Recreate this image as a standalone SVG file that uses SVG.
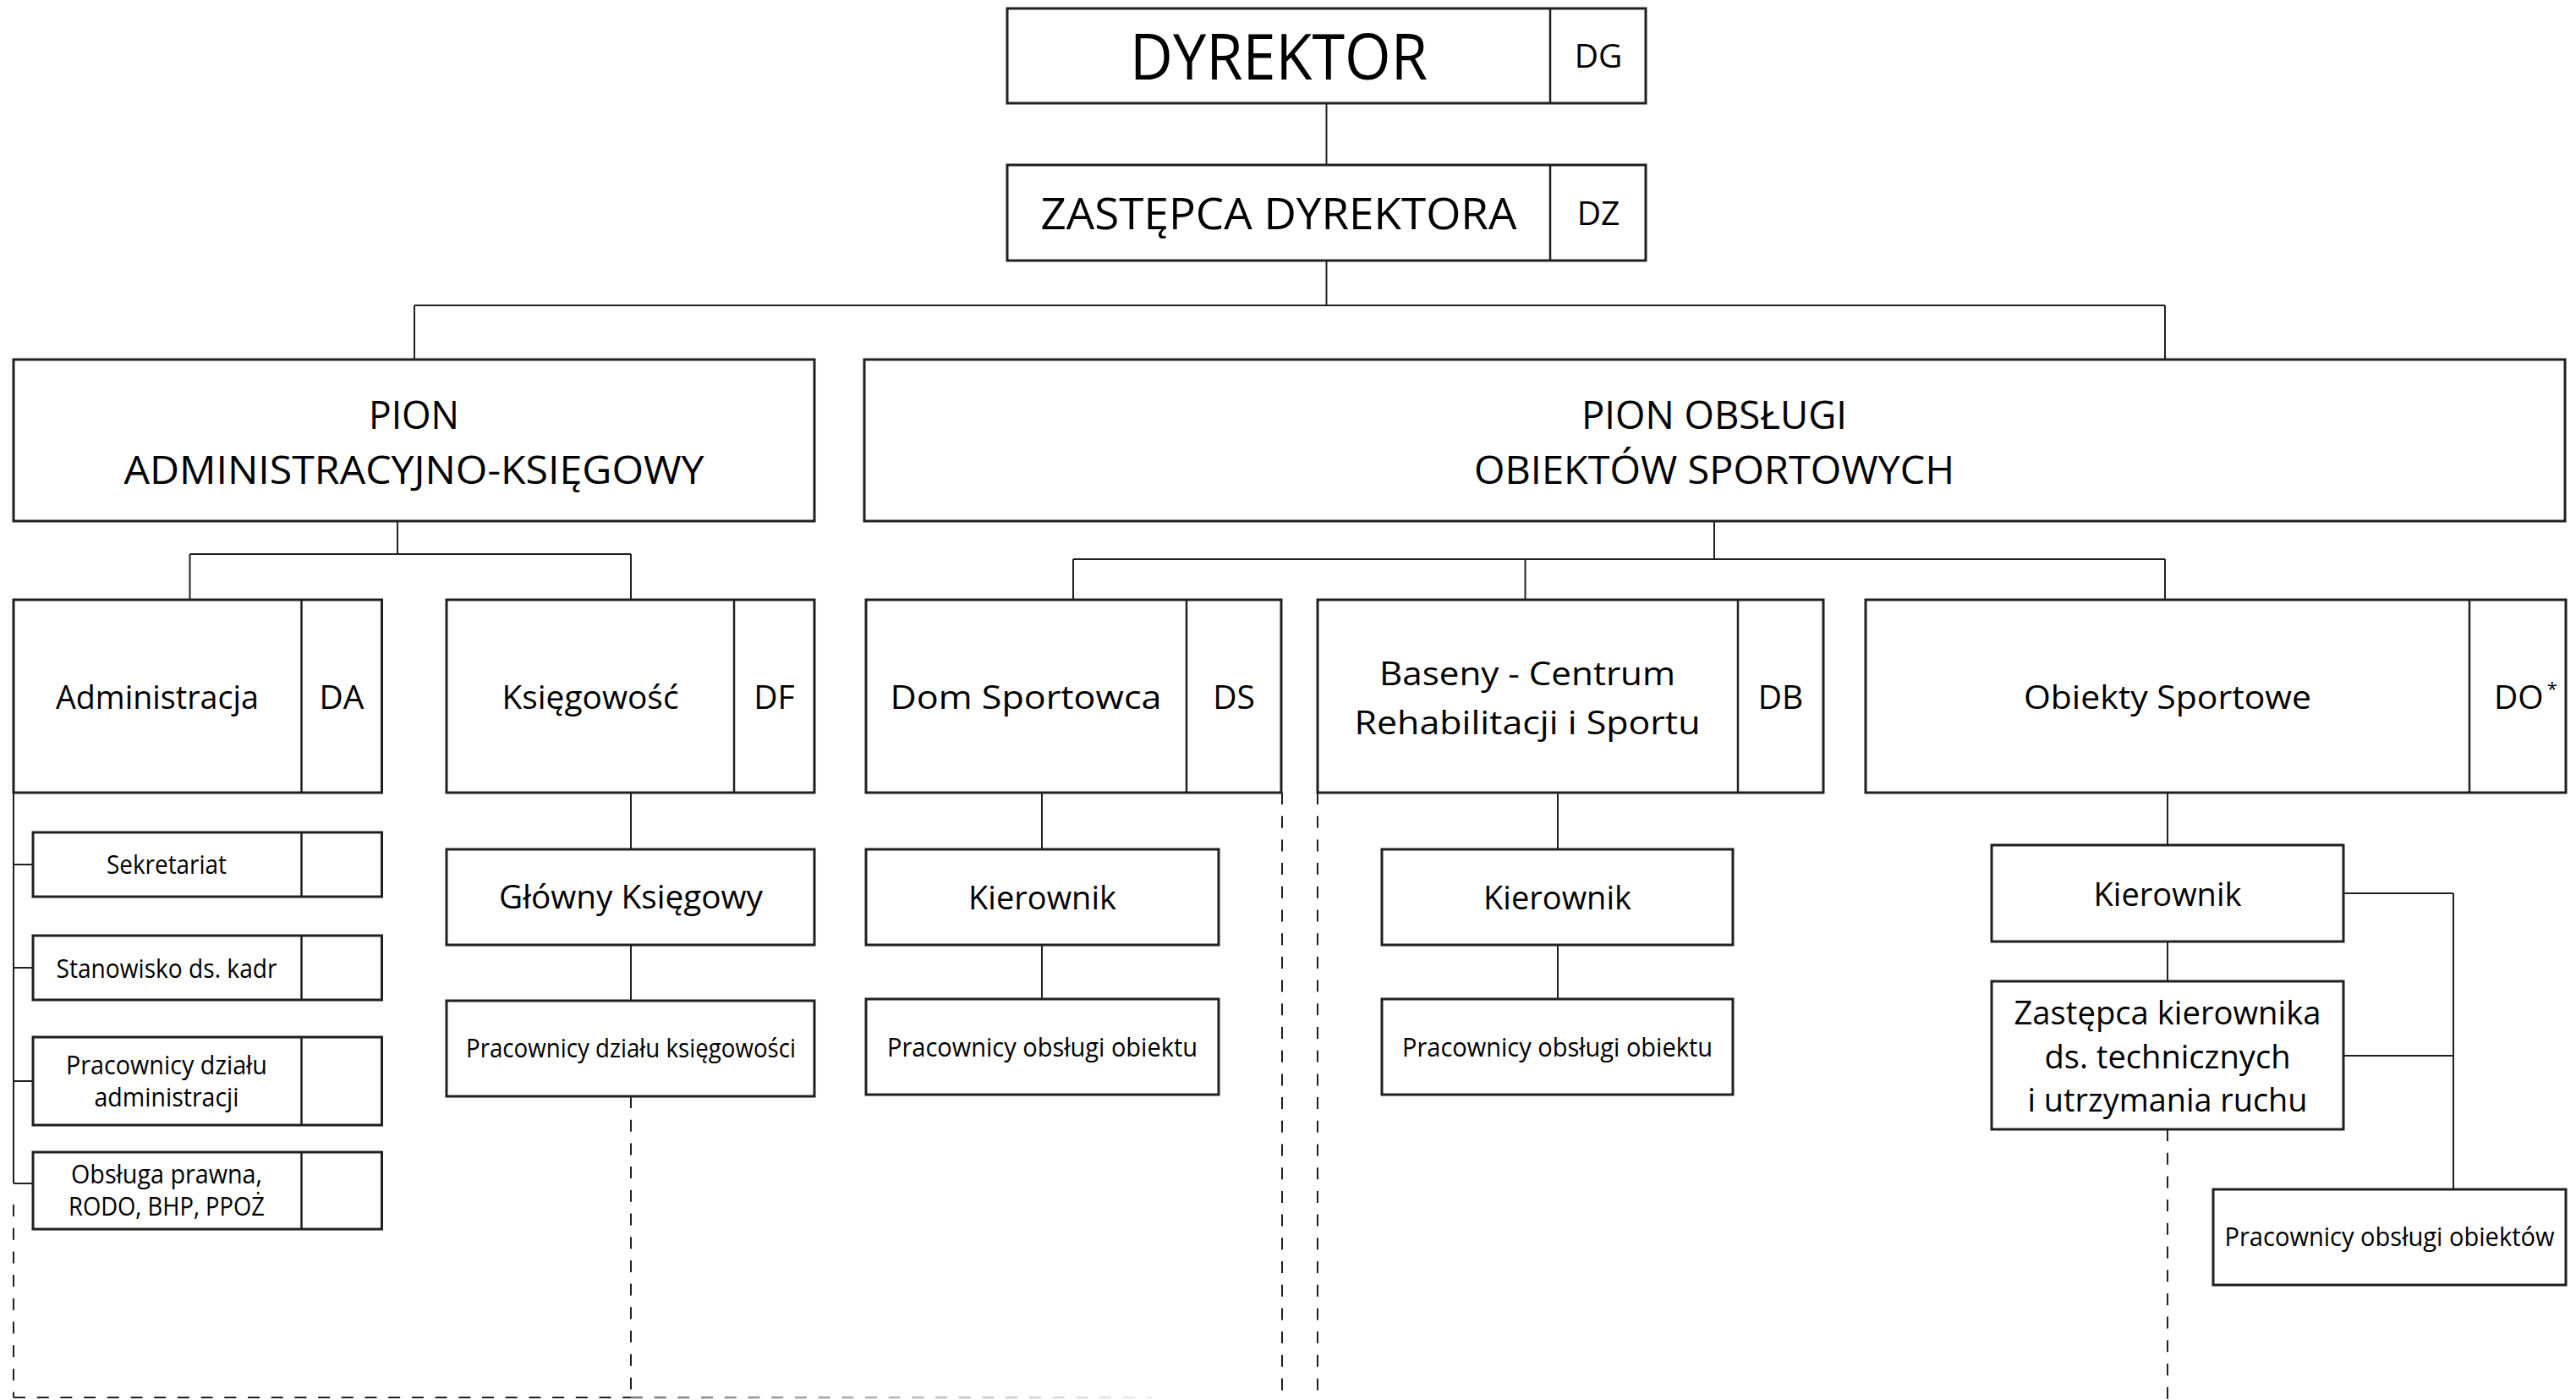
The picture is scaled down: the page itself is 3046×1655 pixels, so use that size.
<svg xmlns="http://www.w3.org/2000/svg" width="3046" height="1655" viewBox="0 0 3046 1655">
  <defs>
    <style>
      .box { fill: #ffffff; stroke: #231f20; stroke-width: 3; }
      .sep { stroke: #231f20; stroke-width: 2.5; }
      .ln { stroke: #231f20; stroke-width: 2; fill: none; }
      .dash { stroke: #231f20; stroke-width: 2; fill: none; stroke-dasharray: 14 13.7; }
      text { font-family: "Open Sans", "Noto Sans", "Liberation Sans", sans-serif; fill: #000000; text-anchor: middle; }
      .xl { font-size: 75px; }
      .lg { font-size: 52px; }
      .hd { font-size: 46px; }
      .md { font-size: 39px; }
      .sm { font-size: 31px; }
    </style>
    <linearGradient id="fade" gradientUnits="userSpaceOnUse" x1="746" y1="0" x2="1362" y2="0">
      <stop offset="0" stop-color="#7a7a7a"/>
      <stop offset="1" stop-color="#ececec"/>
    </linearGradient>
  </defs>
  <rect width="3046" height="1655" fill="#ffffff"/>

  <!-- connectors -->
  <g id="connectors">
    <!-- top chain -->
    <line class="ln" x1="1568.5" y1="122" x2="1568.5" y2="195"/>
    <line class="ln" x1="1568.5" y1="308" x2="1568.5" y2="361"/>
    <line class="ln" x1="490" y1="361" x2="2560" y2="361"/>
    <line class="ln" x1="490" y1="361" x2="490" y2="425"/>
    <line class="ln" x1="2560" y1="361" x2="2560" y2="425"/>
    <!-- administrative branch -->
    <line class="ln" x1="470" y1="616" x2="470" y2="655"/>
    <line class="ln" x1="224.5" y1="655" x2="746" y2="655"/>
    <line class="ln" x1="224.5" y1="655" x2="224.5" y2="713"/>
    <line class="ln" x1="746" y1="655" x2="746" y2="709"/>
    <!-- Administracja sub-units -->
    <line class="ln" x1="16" y1="937" x2="16" y2="1399"/>
    <line class="ln" x1="16" y1="1022" x2="39" y2="1022"/>
    <line class="ln" x1="16" y1="1144" x2="39" y2="1144"/>
    <line class="ln" x1="16" y1="1278" x2="39" y2="1278"/>
    <line class="ln" x1="16" y1="1399" x2="39" y2="1399"/>
    <line class="dash" x1="16" y1="1424" x2="16" y2="1652"/>
    <!-- Księgowość column -->
    <line class="ln" x1="746" y1="937" x2="746" y2="1004"/>
    <line class="ln" x1="746" y1="1117" x2="746" y2="1183"/>
    <line class="dash" x1="746" y1="1296" x2="746" y2="1652"/>
    <!-- bottom dashed rule -->
    <line class="dash" x1="16" y1="1652" x2="746" y2="1652" stroke-width="3"/>
    <line x1="746" y1="1652" x2="1362" y2="1652" stroke="url(#fade)" stroke-width="2.5" stroke-dasharray="14 13.7"/>
    <!-- sports facilities branch -->
    <line class="ln" x1="2027" y1="616" x2="2027" y2="661"/>
    <line class="ln" x1="1269" y1="661" x2="2560" y2="661"/>
    <line class="ln" x1="1269" y1="661" x2="1269" y2="709"/>
    <line class="ln" x1="1803.5" y1="661" x2="1803.5" y2="709"/>
    <line class="ln" x1="2560" y1="661" x2="2560" y2="709"/>
    <!-- Dom Sportowca column -->
    <line class="ln" x1="1232" y1="937" x2="1232" y2="1004"/>
    <line class="ln" x1="1232" y1="1117" x2="1232" y2="1181"/>
    <line class="dash" x1="1516" y1="937" x2="1516" y2="1655"/>
    <!-- Baseny column -->
    <line class="dash" x1="1558" y1="937" x2="1558" y2="1655"/>
    <line class="ln" x1="1842" y1="937" x2="1842" y2="1004"/>
    <line class="ln" x1="1842" y1="1117" x2="1842" y2="1181"/>
    <!-- Obiekty Sportowe column -->
    <line class="ln" x1="2563" y1="937" x2="2563" y2="999"/>
    <line class="ln" x1="2563" y1="1113" x2="2563" y2="1160"/>
    <line class="dash" x1="2563" y1="1335" x2="2563" y2="1655"/>
    <line class="ln" x1="2771" y1="1056" x2="2901" y2="1056"/>
    <line class="ln" x1="2771" y1="1248" x2="2901" y2="1248"/>
    <line class="ln" x1="2901" y1="1056" x2="2901" y2="1406"/>
  </g>

  <!-- top management -->
  <g id="dyrektor">
    <rect class="box" x="1191" y="10" width="755" height="112"/>
    <line class="sep" x1="1833" y1="10" x2="1833" y2="122"/>
    <text class="xl" x="1512" y="94" textLength="352" lengthAdjust="spacingAndGlyphs">DYREKTOR</text>
    <text class="md" x="1890" y="80">DG</text>
  </g>
  <g id="zastepca-dyrektora">
    <rect class="box" x="1191" y="195" width="755" height="113"/>
    <line class="sep" x1="1833" y1="195" x2="1833" y2="308"/>
    <text class="lg" x="1512" y="271" textLength="563" lengthAdjust="spacingAndGlyphs">ZASTĘPCA DYREKTORA</text>
    <text class="md" x="1890" y="266">DZ</text>
  </g>

  <!-- divisions -->
  <g id="pion-administracyjno-ksiegowy">
    <rect class="box" x="16" y="425" width="947" height="191"/>
    <text class="hd" x="489.5" y="507" textLength="107" lengthAdjust="spacingAndGlyphs">PION</text>
    <text class="hd" x="489.5" y="572" textLength="686" lengthAdjust="spacingAndGlyphs">ADMINISTRACYJNO-KSIĘGOWY</text>
  </g>
  <g id="pion-obslugi">
    <rect class="box" x="1022" y="425" width="2011" height="191"/>
    <text class="hd" x="2027" y="507" textLength="314" lengthAdjust="spacingAndGlyphs">PION OBSŁUGI</text>
    <text class="hd" x="2027" y="572" textLength="568" lengthAdjust="spacingAndGlyphs">OBIEKTÓW SPORTOWYCH</text>
  </g>

  <!-- departments -->
  <g id="administracja">
    <rect class="box" x="16" y="709" width="435.5" height="228"/>
    <line class="sep" x1="356.5" y1="709" x2="356.5" y2="937"/>
    <text class="md" x="186" y="838" textLength="240" lengthAdjust="spacingAndGlyphs">Administracja</text>
    <text class="md" x="404" y="838">DA</text>
  </g>
  <g id="ksiegowosc">
    <rect class="box" x="528" y="709" width="435" height="228"/>
    <line class="sep" x1="868" y1="709" x2="868" y2="937"/>
    <text class="md" x="698" y="838" textLength="209" lengthAdjust="spacingAndGlyphs">Księgowość</text>
    <text class="md" x="915.5" y="838">DF</text>
  </g>
  <g id="dom-sportowca">
    <rect class="box" x="1024" y="709" width="491" height="228"/>
    <line class="sep" x1="1403" y1="709" x2="1403" y2="937"/>
    <text class="md" x="1213" y="838" textLength="321" lengthAdjust="spacingAndGlyphs">Dom Sportowca</text>
    <text class="md" x="1459" y="838">DS</text>
  </g>
  <g id="baseny">
    <rect class="box" x="1558" y="709" width="598" height="228"/>
    <line class="sep" x1="2055" y1="709" x2="2055" y2="937"/>
    <text class="md" x="1806" y="810" textLength="350" lengthAdjust="spacingAndGlyphs">Baseny - Centrum</text>
    <text class="md" x="1806" y="868" textLength="409" lengthAdjust="spacingAndGlyphs">Rehabilitacji i Sportu</text>
    <text class="md" x="2105.5" y="838">DB</text>
  </g>
  <g id="obiekty-sportowe">
    <rect class="box" x="2206" y="709" width="828" height="228"/>
    <line class="sep" x1="2920" y1="709" x2="2920" y2="937"/>
    <text class="md" x="2563" y="838" textLength="340" lengthAdjust="spacingAndGlyphs">Obiekty Sportowe</text>
    <text class="md" x="2949" y="838" style="text-anchor:start">DO<tspan font-size="22" dx="4" dy="-16">*</tspan></text>
  </g>

  <!-- Administracja units -->
  <g id="sekretariat">
    <rect class="box" x="39" y="984" width="412.5" height="76"/>
    <line class="sep" x1="356.5" y1="984" x2="356.5" y2="1060"/>
    <text class="sm" x="197" y="1033" textLength="142" lengthAdjust="spacingAndGlyphs">Sekretariat</text>
  </g>
  <g id="stanowisko-kadr">
    <rect class="box" x="39" y="1106" width="412.5" height="76"/>
    <line class="sep" x1="356.5" y1="1106" x2="356.5" y2="1182"/>
    <text class="sm" x="197" y="1156" textLength="261" lengthAdjust="spacingAndGlyphs">Stanowisko ds. kadr</text>
  </g>
  <g id="pracownicy-administracji">
    <rect class="box" x="39" y="1226" width="412.5" height="104"/>
    <line class="sep" x1="356.5" y1="1226" x2="356.5" y2="1330"/>
    <text class="sm" x="197" y="1270" textLength="238" lengthAdjust="spacingAndGlyphs">Pracownicy działu</text>
    <text class="sm" x="197" y="1308" textLength="171" lengthAdjust="spacingAndGlyphs">administracji</text>
  </g>
  <g id="obsluga-prawna">
    <rect class="box" x="39" y="1362" width="412.5" height="91"/>
    <line class="sep" x1="356.5" y1="1362" x2="356.5" y2="1453"/>
    <text class="sm" x="197" y="1399" textLength="226" lengthAdjust="spacingAndGlyphs">Obsługa prawna,</text>
    <text class="sm" x="197" y="1437" textLength="232" lengthAdjust="spacingAndGlyphs">RODO, BHP, PPOŻ</text>
  </g>

  <!-- Księgowość units -->
  <g id="glowny-ksiegowy">
    <rect class="box" x="528" y="1004" width="435" height="113"/>
    <text class="md" x="746" y="1074" textLength="312" lengthAdjust="spacingAndGlyphs">Główny Księgowy</text>
  </g>
  <g id="pracownicy-ksiegowosci">
    <rect class="box" x="528" y="1183" width="435" height="113"/>
    <text class="sm" x="746" y="1250" textLength="390" lengthAdjust="spacingAndGlyphs">Pracownicy działu księgowości</text>
  </g>

  <!-- Dom Sportowca units -->
  <g id="kierownik-ds">
    <rect class="box" x="1024" y="1004" width="417" height="113"/>
    <text class="md" x="1232.5" y="1075" textLength="175" lengthAdjust="spacingAndGlyphs">Kierownik</text>
  </g>
  <g id="pracownicy-ds">
    <rect class="box" x="1024" y="1181" width="417" height="113"/>
    <text class="sm" x="1232.5" y="1249" textLength="367" lengthAdjust="spacingAndGlyphs">Pracownicy obsługi obiektu</text>
  </g>

  <!-- Baseny units -->
  <g id="kierownik-db">
    <rect class="box" x="1634" y="1004" width="415" height="113"/>
    <text class="md" x="1841.5" y="1075" textLength="175" lengthAdjust="spacingAndGlyphs">Kierownik</text>
  </g>
  <g id="pracownicy-db">
    <rect class="box" x="1634" y="1181" width="415" height="113"/>
    <text class="sm" x="1841.5" y="1249" textLength="367" lengthAdjust="spacingAndGlyphs">Pracownicy obsługi obiektu</text>
  </g>

  <!-- Obiekty Sportowe units -->
  <g id="kierownik-do">
    <rect class="box" x="2355" y="999" width="416" height="114"/>
    <text class="md" x="2563" y="1071" textLength="175" lengthAdjust="spacingAndGlyphs">Kierownik</text>
  </g>
  <g id="zastepca-kierownika">
    <rect class="box" x="2355" y="1160" width="416" height="175"/>
    <text class="md" x="2563" y="1211" textLength="363" lengthAdjust="spacingAndGlyphs">Zastępca kierownika</text>
    <text class="md" x="2563" y="1263" textLength="291" lengthAdjust="spacingAndGlyphs">ds. technicznych</text>
    <text class="md" x="2563" y="1314" textLength="331" lengthAdjust="spacingAndGlyphs">i utrzymania ruchu</text>
  </g>
  <g id="pracownicy-do">
    <rect class="box" x="2617" y="1406" width="417" height="113"/>
    <text class="sm" x="2825.5" y="1473" textLength="390" lengthAdjust="spacingAndGlyphs">Pracownicy obsługi obiektów</text>
  </g>
</svg>
